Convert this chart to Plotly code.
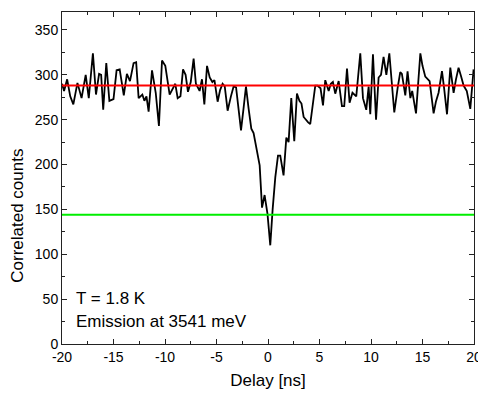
import plotly.graph_objects as go

# Delay (ns) and correlated counts
delay = [-20.0, -19.8, -19.5, -19.2, -18.9, -18.5, -18.1, -17.7, -17.4, -17.0,
         -16.7, -16.4, -16.2, -16.0, -15.7, -15.4, -15.0, -14.7, -14.4, -14.0,
         -13.7, -13.4, -13.05, -12.8, -12.56, -12.2, -12.0, -11.8, -11.59, -11.26,
         -10.9, -10.59, -10.29, -9.97, -9.55, -9.2, -9.0, -8.77, -8.5, -8.25,
         -8.0, -7.77, -7.5, -7.22, -7.0, -6.64, -6.41, -6.18, -5.92, -5.66,
         -5.4, -5.2, -4.89, -4.65, -4.41, -4.2, -3.92, -3.6, -3.34, -3.1,
         -2.85, -2.62, -2.38, -2.14, -1.88, -1.62, -1.4, -1.07, -0.81, -0.58,
         -0.33, -0.05, 0.22, 0.45, 0.71, 0.97, 1.19, 1.51, 1.78, 2.0,
         2.26, 2.55, 2.81, 3.05, 3.25, 3.46, 3.7, 3.9, 4.1, 4.35,
         4.59, 4.8, 5.1, 5.34, 5.56, 5.89, 6.1, 6.3, 6.53, 6.86,
         7.18, 7.4, 7.67, 7.92, 8.2, 8.57, 8.96, 9.22, 9.54, 9.77,
         9.93, 10.19, 10.49, 10.74, 10.97, 11.22, 11.49, 11.78, 12.0, 12.26,
         12.58, 12.84, 13.0, 13.33, 13.55, 13.82, 14.0, 14.37, 14.79, 15.0,
         15.27, 15.69, 16.08, 16.3, 16.56, 16.89, 17.1, 17.38, 17.7, 18.02,
         18.25, 18.5, 18.75, 18.99, 19.3, 19.64, 19.96]
counts = [290, 282, 295, 276, 267, 291, 274, 300, 274, 324,
          278, 301, 300, 261, 313, 271, 273, 305, 306, 277,
          301, 293, 313, 314, 274, 278, 271, 276, 259, 305,
          280, 243, 316, 310, 278, 285, 290, 274, 276, 306,
          300, 281, 292, 318, 290, 282, 295, 267, 310, 297,
          292, 294, 270, 283, 290, 287, 260, 276, 287, 286,
          262, 238, 262, 287, 262, 240, 235, 215, 199, 152,
          166, 145, 110, 150, 186, 210, 210, 188, 230, 225,
          274, 226, 279, 271, 268, 253, 249, 247, 245, 270,
          288, 288, 285, 266, 294, 282, 290, 292, 279, 293,
          265, 265, 307, 269, 280, 276, 324, 274, 261, 287,
          256, 323, 250, 297, 300, 320, 300, 324, 290, 258,
          285, 303, 301, 277, 304, 274, 282, 257, 324, 310,
          298, 293, 257, 270, 280, 304, 285, 256, 308, 280,
          295, 308, 298, 288, 282, 262, 306]

mean_level = 288   # red line
half_level = 144   # green line
x_range = [-20, 20]
y_range = [0, 370]
x_ticks = [-20, -15, -10, -5, 0, 5, 10, 15, 20]
x_tick_labels = ["-20", "-15", "-10", "-5", "0", "5", "10", "15", "20"]
y_ticks = [0, 50, 100, 150, 200, 250, 300, 350]
y_tick_labels = ["0", "50", "100", "150", "200", "250", "300", "350"]

fig = go.Figure()
fig.add_trace(go.Scatter(x=delay, y=counts, mode="lines",
                         line=dict(color="black", width=1.8), showlegend=False))
fig.add_trace(go.Scatter(x=x_range, y=[mean_level, mean_level], mode="lines",
                         line=dict(color="#ff0000", width=2), showlegend=False))
fig.add_trace(go.Scatter(x=x_range, y=[half_level, half_level], mode="lines",
                         line=dict(color="#00ee00", width=2), showlegend=False))

font = "Liberation Sans, Arial, sans-serif"
axis_common = dict(showline=True, linecolor="#222", linewidth=1, mirror="allticks",
                   ticks="inside", ticklen=5, tickwidth=1, tickcolor="#222",
                   showgrid=False, zeroline=False, automargin=False,
                   ticklabeloverflow="allow",
                   tickfont=dict(family=font, size=14, color="black"))
fig.update_xaxes(range=x_range, tickvals=x_ticks, ticktext=x_tick_labels,
                 title=dict(text="Delay [ns]", font=dict(family=font, size=17, color="black"), standoff=10),
                 minor=dict(ticks="inside", ticklen=3, dtick=2.5, tick0=0, tickcolor="#222"),
                 **axis_common)
fig.update_yaxes(range=y_range, tickvals=y_ticks, ticktext=y_tick_labels,
                 minor=dict(ticks="inside", ticklen=3, dtick=25, tick0=0, tickcolor="#222"),
                 **axis_common)

fig.add_annotation(x=-0.107, y=0.386, xref="paper", yref="paper", xanchor="center", yanchor="middle",
                   text="Correlated counts", textangle=-90, showarrow=False,
                   font=dict(family=font, size=17, color="black"))
fig.add_annotation(x=0.03, y=50.5, xref="paper", yref="y", xanchor="left", yanchor="middle",
                   text="T = 1.8 K", showarrow=False, font=dict(family=font, size=17, color="black"))
fig.add_annotation(x=0.03, y=25, xref="paper", yref="y", xanchor="left", yanchor="middle",
                   text="Emission at 3541 meV", showarrow=False, font=dict(family=font, size=17, color="black"))

fig.update_layout(width=478, height=394, margin=dict(l=62, r=4, t=12, b=50),
                  plot_bgcolor="white", paper_bgcolor="white")
fig.write_html("out.html", config={"displayModeBar": False},
               post_script="document.body.style.margin='0';document.body.style.overflow='hidden';")
